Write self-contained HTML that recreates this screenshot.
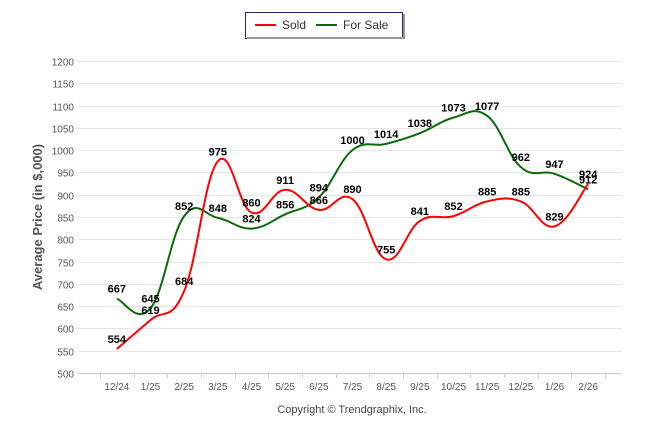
<!DOCTYPE html>
<html><head><meta charset="utf-8"><style>
body{margin:0;background:#fff;width:646px;height:434px;overflow:hidden;font-family:"Liberation Sans",sans-serif}
</style></head><body>
<svg id="c" width="646" height="434" xmlns="http://www.w3.org/2000/svg">
<g>
<rect x="245.5" y="12.5" width="157" height="26" fill="#fff" stroke="#1c2a5c" stroke-width="1"/>
<rect x="247" y="37" width="157" height="2" fill="#999"/>
<rect x="403" y="14" width="2" height="25" fill="#999"/>
<g><line x1="255" y1="25" x2="276" y2="25" stroke="#f00" stroke-width="2"/><text x="282" y="29" font-size="12" fill="#333">Sold</text></g>
<g><line x1="316" y1="25" x2="337" y2="25" stroke="#0a6a0a" stroke-width="2"/><text x="343" y="29" font-size="12" fill="#333">For Sale</text></g>
</g>
<text transform="translate(42,217) rotate(-90)" text-anchor="middle" font-size="13" font-weight="bold" fill="#555">Average Price (in $,000)</text>
<text x="352" y="413" text-anchor="middle" font-size="11" fill="#444">Copyright © Trendgraphix, Inc.</text>
<g id="grid"></g><g id="axes"></g><g id="series"></g><g id="labels"></g>
</svg>
<script>
const categories=["12/24","1/25","2/25","3/25","4/25","5/25","6/25","7/25","8/25","9/25","10/25","11/25","12/25","1/26","2/26"];
const sold=[554,619,684,975,860,911,866,890,755,841,852,885,885,829,924];
const forSale=[667,645,852,848,824,856,894,1000,1014,1038,1073,1077,962,947,912];
const yTicks=[500,550,600,650,700,750,800,850,900,950,1000,1050,1100,1150,1200];
const NS="http://www.w3.org/2000/svg";
const gx0=78,gx1=622,x0=100,x1=605,yMin=500,yMax=1200,yTop=61,yBot=373;
const step=(x1-x0)/categories.length;
function xs(i){return x0+step*(i+0.5);}
function ys(v){return yBot-(v-yMin)/(yMax-yMin)*(yBot-yTop);}
function mk(t,a,p){const e=document.createElementNS(NS,t);for(const k in a)e.setAttribute(k,a[k]);p.appendChild(e);return e;}
const grid=document.getElementById('grid'),axes=document.getElementById('axes');
yTicks.forEach(v=>{const y=Math.round(ys(v))+0.5;
const l=mk('line',{x1:gx0,x2:gx1,y1:y,y2:y,stroke:'#e6e6e6'},grid);

const t=mk('text',{x:gx0-4,y:y+4,'text-anchor':'end','font-size':'10',fill:'#555'},axes);t.textContent=v;
});
mk('line',{x1:gx0,x2:gx1,y1:yBot+0.5,y2:yBot+0.5,stroke:'#ccc'},axes);
for(let i=0;i<=categories.length;i++){const x=Math.round(x0+step*i)+0.5;mk('line',{x1:x,x2:x,y1:yBot,y2:yBot+5,stroke:'#ccc'},axes);}
categories.forEach((c,i)=>{const t=mk('text',{x:xs(i),y:yBot+17,'text-anchor':'middle','font-size':'10',fill:'#555'},axes);t.textContent=c;
});
function path(vals){const p=vals.map((v,i)=>[xs(i),ys(v)]);let d='M'+p[0][0]+','+p[0][1];
for(let i=0;i<p.length-1;i++){const a=p[Math.max(0,i-1)],b=p[i],c=p[i+1],e=p[Math.min(p.length-1,i+2)];
const k=1/5;const c1=[b[0]+(c[0]-a[0])*k,b[1]+(c[1]-a[1])*k],c2=[c[0]-(e[0]-b[0])*k,c[1]-(e[1]-b[1])*k];
d+=' C'+c1+' '+c2+' '+c;}return d;}
const S=document.getElementById('series'),L=document.getElementById('labels');
const p1=mk('path',{d:path(forSale),fill:'none',stroke:'#0a6a0a','stroke-width':2},S);

const p2=mk('path',{d:path(sold),fill:'none',stroke:'#f00','stroke-width':2},S);

[[forSale,'for-sale-value'],[sold,'sold-value']].forEach(([vals,n])=>vals.forEach((v,i)=>{
const t=mk('text',{x:xs(i),y:ys(v)-6,'text-anchor':'middle','font-size':'11','font-weight':'bold',fill:'#000'},L);t.textContent=v;
}));
</script>
</body></html>
